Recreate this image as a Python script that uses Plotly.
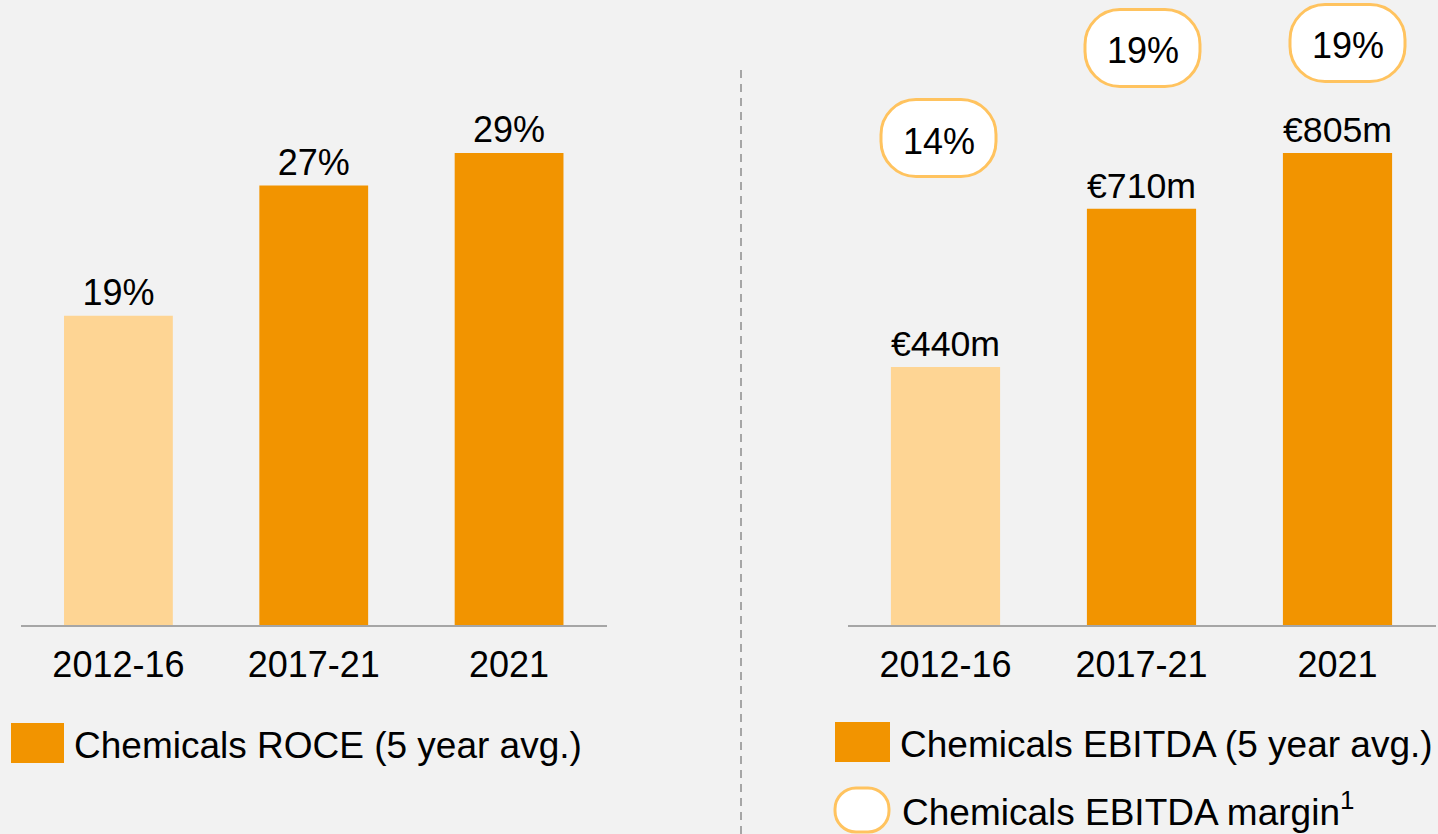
import plotly.graph_objects as go

# ---------------- data ----------------
categories = ["2012-16", "2017-21", "2021"]
roce_pct = [19, 27, 29]
ebitda_m = [440, 710, 805]
ebitda_margin_pct = [14, 19, 19]
roce_labels = [f"{v}%" for v in roce_pct]
ebitda_labels = [f"€{v}m" for v in ebitda_m]
margin_labels = [f"{v}%" for v in ebitda_margin_pct]
legend_left = "Chemicals ROCE (5 year avg.)"
legend_right_1 = "Chemicals EBITDA (5 year avg.)"
legend_right_2 = "Chemicals EBITDA margin<sup>1</sup>"

# ---------------- style ----------------
W, H = 1438, 834
BG = "#F2F2F2"
LIGHT = "#FED594"
ORANGE = "#F29400"
BUBBLE_BORDER = "#FFC35F"
AXIS_GREY = "#A6A6A6"
FONT = "Arial, Liberation Sans, sans-serif"
FS = 36
bar_colors = [LIGHT, ORANGE, ORANGE]

def px_x(p):
    return p / W

def px_y(p):
    return 1 - p / H

def rrect(w, h, r, dx=0):
    k = 0.5523 * r
    x0, x1, y0, y1 = -w / 2 + dx, w / 2 + dx, -h / 2, h / 2
    return (
        f"M{x0 + r},{y0} L{x1 - r},{y0} "
        f"C{x1 - r + k},{y0} {x1},{y0 + r - k} {x1},{y0 + r} "
        f"L{x1},{y1 - r} "
        f"C{x1},{y1 - r + k} {x1 - r + k},{y1} {x1 - r},{y1} "
        f"L{x0 + r},{y1} "
        f"C{x0 + r - k},{y1} {x0},{y1 - r + k} {x0},{y1 - r} "
        f"L{x0},{y0 + r} "
        f"C{x0},{y0 + r - k} {x0 + r - k},{y0} {x0 + r},{y0} Z"
    )

fig = go.Figure()
fig.add_trace(go.Bar(
    x=categories, y=roce_pct, text=roce_labels, textposition="outside",
    marker=dict(color=bar_colors, line=dict(width=0)), width=0.557,
    textfont=dict(size=FS, color="black", family=FONT), cliponaxis=False,
    xaxis="x", yaxis="y", showlegend=False, hoverinfo="skip",
))
fig.add_trace(go.Bar(
    x=categories, y=ebitda_m, text=ebitda_labels, textposition="outside",
    marker=dict(color=bar_colors, line=dict(width=0)), width=0.557,
    textfont=dict(size=FS, color="black", family=FONT), cliponaxis=False,
    xaxis="x2", yaxis="y2", showlegend=False, hoverinfo="skip",
))

bottom = px_y(625)
axis_common = dict(
    type="category", range=[-0.5, 2.5], autorange=False,
    showgrid=False, zeroline=False, showline=True,
    linecolor=AXIS_GREY, linewidth=2, ticks="", ticklabelstandoff=7,
    tickfont=dict(size=FS, color="black", family=FONT), fixedrange=True,
)
yaxis_common = dict(visible=False, showgrid=False, zeroline=False, fixedrange=True)

shapes = []
annotations = []

# margin bubbles (x offsets in px relative to the bar centres)
bubble_center_y = [138, 48, 43]
bubble_dx = [-7, 1, 10]
for i, (lab, cy, dx) in enumerate(zip(margin_labels, bubble_center_y, bubble_dx)):
    shapes.append(dict(
        type="path", xref="x2", yref="paper", xsizemode="pixel", ysizemode="pixel",
        xanchor=i, yanchor=px_y(cy), path=rrect(115, 77, 35, dx),
        fillcolor="white", line=dict(color=BUBBLE_BORDER, width=3), layer="above",
    ))
    annotations.append(dict(
        xref="x2", yref="paper", x=i, xshift=dx, y=px_y(cy + 3), text=lab, showarrow=False,
        font=dict(size=FS, color="black", family=FONT), xanchor="center", yanchor="middle",
    ))

# dashed separator
shapes.append(dict(
    type="line", xref="paper", yref="paper", x0=px_x(741), x1=px_x(741),
    y0=0, y1=px_y(68), line=dict(color=AXIS_GREY, width=2, dash="8px,6px"),
))

# legends
shapes.append(dict(type="rect", xref="paper", yref="paper",
                   x0=px_x(11), x1=px_x(64), y0=px_y(763), y1=px_y(723),
                   fillcolor=ORANGE, line=dict(width=0)))
annotations.append(dict(xref="paper", yref="paper", x=px_x(72), y=px_y(745),
                        text=legend_left, showarrow=False, xanchor="left", yanchor="middle",
                        font=dict(size=37, color="black", family=FONT)))
shapes.append(dict(type="rect", xref="paper", yref="paper",
                   x0=px_x(835), x1=px_x(890), y0=px_y(762), y1=px_y(722),
                   fillcolor=ORANGE, line=dict(width=0)))
annotations.append(dict(xref="paper", yref="paper", x=px_x(898), y=px_y(744),
                        text=legend_right_1, showarrow=False, xanchor="left", yanchor="middle",
                        font=dict(size=37, color="black", family=FONT)))
shapes.append(dict(type="path", xref="paper", yref="paper", xsizemode="pixel", ysizemode="pixel",
                   xanchor=px_x(862), yanchor=px_y(810), path=rrect(54, 44, 21),
                   fillcolor="white", line=dict(color=BUBBLE_BORDER, width=3)))
annotations.append(dict(xref="paper", yref="paper", x=px_x(900), y=px_y(809),
                        text=legend_right_2, showarrow=False, xanchor="left", yanchor="middle",
                        font=dict(size=37, color="black", family=FONT)))

fig.update_layout(
    width=W, height=H, paper_bgcolor=BG, plot_bgcolor=BG,
    margin=dict(l=0, r=0, t=0, b=0, autoexpand=False), bargap=0.443,
    font=dict(family=FONT, color="black"),
    xaxis=dict(domain=[px_x(20.75), px_x(606.75)], anchor="y", **axis_common),
    xaxis2=dict(domain=[px_x(847.5), px_x(1435.5)], anchor="y2", **axis_common),
    yaxis=dict(domain=[bottom, 1], range=[0, 38.4], anchor="x", **yaxis_common),
    yaxis2=dict(domain=[bottom, 1], range=[0, 1066], anchor="x2", **yaxis_common),
    shapes=shapes, annotations=annotations,
)

fig.write_html(
    "out.html",
    config={"displayModeBar": False},
    post_script="document.body.style.margin='0px';document.body.style.overflow='hidden';",
)
